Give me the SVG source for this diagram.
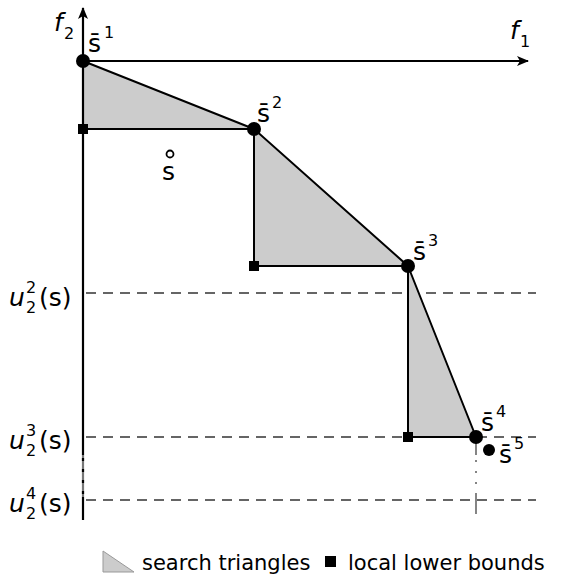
<svg xmlns="http://www.w3.org/2000/svg" width="568" height="581" viewBox="0 0 568 581">
<defs>
<marker id="arr" viewBox="0 0 12 10" refX="11" refY="5" markerWidth="12" markerHeight="10" markerUnits="userSpaceOnUse" orient="auto">
<path d="M0,0 L12,5 L0,10 L3,5 Z" fill="#000"/>
</marker>
</defs>
<style>
.lbl{font-family:"DejaVu Sans",sans-serif;font-size:25px;fill:#000}
.sup{font-family:"DejaVu Sans",sans-serif;font-size:16px;fill:#000}
.it{font-style:italic}
.tri{fill:#cccccc;stroke:#000;stroke-width:2;stroke-linejoin:round}
.dash{stroke:#333;stroke-width:1.6;stroke-dasharray:10,7;fill:none}
.pt{fill:#000}
.lb{fill:#000}
.leg{font-family:"DejaVu Sans",sans-serif;font-size:21px;fill:#000}
</style>
<g id="guides">
<line class="dash" x1="86" y1="293" x2="536" y2="293"/>
<line class="dash" x1="86" y1="437" x2="536" y2="437"/>
<line class="dash" x1="86" y1="500" x2="536" y2="500"/>
<line x1="476" y1="437" x2="476" y2="455" stroke="#666" stroke-width="1.6"/>
<line x1="476" y1="460" x2="476" y2="492" stroke="#666" stroke-width="1.6" stroke-dasharray="2,9"/>
<line x1="476" y1="493" x2="476" y2="514" stroke="#666" stroke-width="1.6"/>
</g>
<g id="connectors">
<polygon id="tri1" class="tri" points="83,61 254,129 83,129"/>
<polygon id="tri2" class="tri" points="254,129 408,266 254,266"/>
<polygon id="tri3" class="tri" points="408,266 476,437 408,437"/>
<line x1="83" y1="61" x2="528" y2="61" stroke="#000" stroke-width="2.2" marker-end="url(#arr)"/>
<line x1="83" y1="455" x2="83" y2="8" stroke="#000" stroke-width="2.2" marker-end="url(#arr)"/>
<line x1="83" y1="455" x2="83" y2="497" stroke="#777" stroke-width="2.2"/>
<line x1="83" y1="458" x2="83" y2="497" stroke="#000" stroke-width="2.2" stroke-dasharray="3,8"/>
<line x1="83" y1="497" x2="83" y2="520" stroke="#000" stroke-width="2.2"/>
</g>
<g id="axis-labels">
<text class="lbl it" x="54" y="31">f</text><text class="sup" x="64" y="39">2</text>
<text class="lbl it" x="510" y="39">f</text><text class="sup" x="520" y="47">1</text>
</g>
<g id="s1"><circle class="pt" cx="83" cy="61" r="7"/><text class="lbl" x="88" y="52">s̄</text><text class="sup" x="104" y="38">1</text></g>
<g id="s2"><circle class="pt" cx="254" cy="129" r="7"/><text class="lbl" x="257" y="122">s̄</text><text class="sup" x="272" y="108">2</text></g>
<g id="s3"><circle class="pt" cx="408" cy="266" r="7"/><text class="lbl" x="413" y="260">s̄</text><text class="sup" x="428" y="246">3</text></g>
<g id="s4"><circle class="pt" cx="476" cy="437" r="7"/><text class="lbl" x="481" y="431">s̄</text><text class="sup" x="496" y="417">4</text></g>
<g id="s5"><circle class="pt" cx="489" cy="450" r="6"/><text class="lbl" x="499" y="463">s̄</text><text class="sup" x="514" y="449">5</text></g>
<g id="s"><circle cx="170" cy="154" r="3.5" fill="#fff" stroke="#000" stroke-width="1.8"/><text class="lbl" x="162" y="180">s</text></g>
<g id="lb1"><rect class="lb" x="78" y="124" width="10" height="10"/></g>
<g id="lb2"><rect class="lb" x="249" y="261" width="10" height="10"/></g>
<g id="lb3"><rect class="lb" x="403" y="432" width="10" height="10"/></g>
<g id="u2"><text class="lbl it" x="9" y="306">u</text><text class="sup" x="26" y="293">2</text><text class="sup" x="26" y="313">2</text><text class="lbl" x="39" y="306">(s)</text></g>
<g id="u3"><text class="lbl it" x="9" y="449">u</text><text class="sup" x="26" y="436">3</text><text class="sup" x="26" y="456">2</text><text class="lbl" x="39" y="449">(s)</text></g>
<g id="u4"><text class="lbl it" x="9" y="512">u</text><text class="sup" x="26" y="499">4</text><text class="sup" x="26" y="519">2</text><text class="lbl" x="39" y="512">(s)</text></g>
<g id="legend">
<polygon points="103,551 134,572 103,572" fill="#cccccc" stroke="#999" stroke-width="1"/>
<text class="leg" x="142" y="570">search triangles</text>
<rect x="325" y="556" width="11" height="11" fill="#000"/>
<text class="leg" x="348" y="570">local lower bounds</text>
</g>
</svg>
